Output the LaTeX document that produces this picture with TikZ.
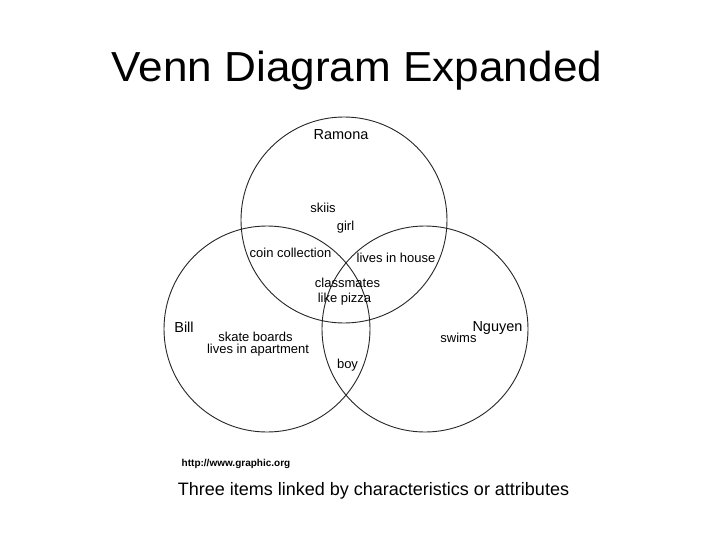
\documentclass[tikz,border=0pt]{standalone}
\usepackage{fontspec}
\setmainfont{Liberation Sans}
\begin{document}
\begin{tikzpicture}[x=1pt,y=-1pt,
  ring/.style={draw=black!85,line width=0.9pt},
  lbl/.style={anchor=base,inner sep=0pt,font=\fontsize{13}{15}\selectfont},
  pname/.style={anchor=base,inner sep=0pt,font=\fontsize{14.5}{17}\selectfont}]
\useasboundingbox[fill=white] (0,0) rectangle (728,546);
\node[anchor=base,inner sep=0pt,font=\fontsize{42}{48}\selectfont] (title) at (357,81) {\scalebox{1.05}[1]{Venn Diagram Expanded}};
\draw[ring] (344,220) circle[radius=103];
\draw[ring] (267,329) circle[radius=103];
\draw[ring] (425,329) circle[radius=103];
\node[pname] (ramona) at (341,139) {Ramona};
\node[pname] (bill) at (184,332) {Bill};
\node[pname] (nguyen) at (497.5,331) {Nguyen};
\node[lbl] (skiis) at (323,212) {skiis};
\node[lbl] (girl) at (345.5,230) {girl};
\node[lbl] (coin) at (290.5,257) {coin collection};
\node[lbl] (house) at (396,262) {lives in house};
\node[lbl] (class) at (347.5,287) {classmates};
\node[lbl] (pizza) at (344.5,302) {like pizza};
\node[lbl] (skate) at (255.5,341) {skate boards};
\node[lbl] (apart) at (258,353) {lives in apartment};
\node[lbl] (boy) at (347.5,368) {boy};
\node[lbl] (swims) at (458.5,342) {swims};
\node[anchor=base,inner sep=0pt,font=\fontsize{10}{12}\selectfont\bfseries] (url) at (236,466) {http://www.graphic.org};
\node[anchor=base,inner sep=0pt,font=\fontsize{18}{21}\selectfont] (caption) at (373.5,495) {Three items linked by characteristics or attributes};
\end{tikzpicture}
\end{document}
